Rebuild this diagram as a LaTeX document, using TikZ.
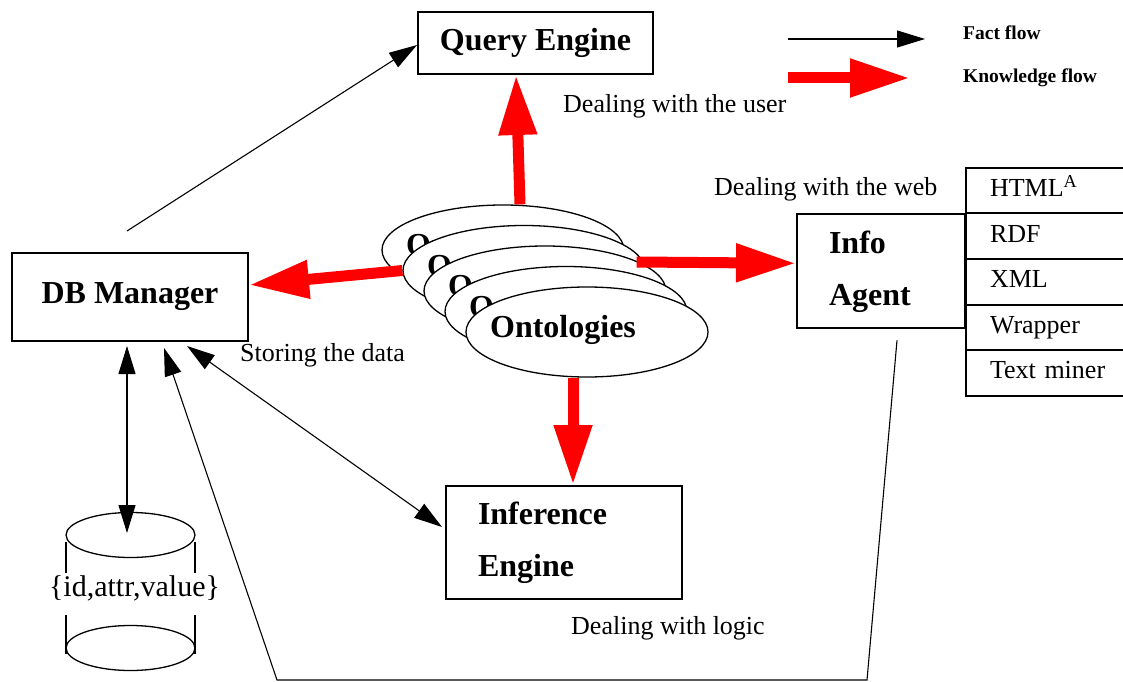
\documentclass[tikz,border=0pt]{standalone}
\usepackage{fontspec}
\setmainfont{Liberation Serif}
\usetikzlibrary{arrows.meta, positioning, shapes.geometric}
\tikzset{every node/.style={align=center}, >={Triangle[length=28pt,width=17pt]}, font=\fontsize{26}{30}\selectfont}
\tikzset{
  module/.style={draw, line width=2pt, font=\fontsize{32}{52}\selectfont\bfseries},
  cell/.style={draw, line width=2pt, outer sep=0pt, align=left, text width=124pt, inner xsep=24pt, minimum height=45.6pt, text height=18pt, text depth=6pt},
  onto/.style={ellipse, draw, fill=white, line width=1.3pt, minimum width=242pt, minimum height=90pt, inner sep=0pt, label={[xshift=-24pt, yshift=2pt, font=\fontsize{32}{36}\selectfont\bfseries]center:Ontologies}},
  fact/.style={line width=1.1pt},
  knowledge/.style={draw=red, line width=11pt, -{Triangle[length=60pt,width=36pt]}},
  caption/.style={anchor=west, inner sep=0pt}
}

\begin{document}
\begin{tikzpicture}[x=1pt, y=1pt]
  \useasboundingbox (0,0) rectangle (1123,681);
  % modules
  \node [module, minimum width=235pt, minimum height=62pt] (qe) at (535.5,638) {Query Engine};
  \node [module, minimum width=236pt, minimum height=88pt] (db) at (130,384) {DB Manager};
  \node [module, align=left, text width=172pt, inner xsep=32pt, minimum height=113pt] (ie) at (564,138.5) {Inference\\Engine};
  % web formats
  \node [cell] (html) at (1052,490.5) {HTML\textsuperscript{A}};
  \node [cell] (rdf) [below=0pt of html] {RDF};
  \node [cell] (xml) [below=0pt of rdf] {XML};
  \node [cell] (wrap) [below=0pt of xml] {Wrapper};
  \node [cell] (miner) [below=0pt of wrap] {Text miner};
  \node [module, align=left, text width=104pt, inner xsep=32pt, minimum height=114pt, anchor=north east] (ia) at (rdf.north west) {Info\\Agent};
  % ontologies
  \node [onto] (onto1) at (503,431) {};
  \node [onto] (onto2) at (524,410.5) {};
  \node [onto] (onto3) at (545,390) {};
  \node [onto] (onto4) at (566,369.5) {};
  \node [onto] (onto5) at (587,349) {};
  % repository
  \coordinate (store) at (130.5,146);
  \draw [line width=1.3pt] (store) ellipse (64.5pt and 22.5pt) (130.5,33) ellipse (64.5pt and 22.5pt);
  \draw [line width=1.8pt] (66,139) -- (66,108) (66,66) -- (66,27) (195,139) -- (195,108) (195,66) -- (195,27);
  \node [font=\fontsize{30}{34}\selectfont] (records) at (134.5,93) {\{id,attr,value\}};
  % labels
  \node [caption] (user) at (563,575) {Dealing with the user};
  \node [caption] (web) at (714,492) {Dealing with the web};
  \node [caption] (storing) at (240,326) {Storing the data};
  \node [caption] (logic) at (571,53) {Dealing with logic};
  % legend
  \node [caption, font=\fontsize{19.5}{22}\selectfont\bfseries] (factkey) at (963,648) {Fact flow};
  \node [caption, font=\fontsize{19.5}{22}\selectfont\bfseries] (knowkey) at (963,603) {Knowledge flow};
  % knowledge flow
  \draw [knowledge] ([xshift=17pt]onto1.north) -- ([xshift=-19.5pt]qe.south);
  \draw [knowledge] (onto2.west) -- ([yshift=12pt]db.east);
  \draw [knowledge] ([xshift=-9pt,yshift=8.5pt]onto2.east) -- ([yshift=8pt]ia.west);
  \draw [knowledge] ([xshift=-14pt]onto5.south) -- ([xshift=9pt]ie.north);
  \draw [knowledge] ([xshift=-175pt]knowkey.west) -- ([xshift=-53pt]knowkey.west);
  % fact flow
  \path [fact] ([xshift=-3pt,yshift=21pt]db.north) edge [->] ([yshift=-2pt]qe.west)
    ([xshift=-3pt,yshift=-4pt]db.south) edge [<->] ([xshift=-3.5pt,yshift=2pt]store)
    ([xshift=57pt,yshift=-4pt]db.south) edge [<->] ([xshift=-3pt,yshift=15.5pt]ie.west)
    ([xshift=-175pt,yshift=-6pt]factkey.west) edge [->] ([xshift=-38pt,yshift=-6pt]factkey.west);
  \draw [fact, ->] ([xshift=16pt,yshift=-11pt]ia.south) -- (867,1) -- (277,1) -- ([xshift=34pt,yshift=-6pt]db.south);
\end{tikzpicture}
\end{document}
